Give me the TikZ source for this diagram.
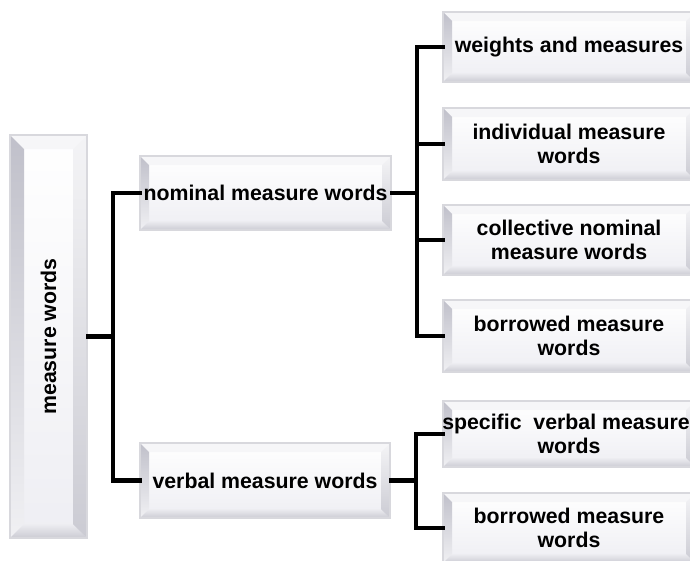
\documentclass[tikz,border=0pt]{standalone}
\usepackage{fontspec}
\setmainfont{Liberation Sans}
\usetikzlibrary{calc}

% bevelled face of a box: #1 is the bevel width
\newcommand\bevelart[1]{%
  \path (path picture bounding box.south west) coordinate (bvSW)
        (path picture bounding box.north east) coordinate (bvNE);
  \coordinate (bvNW) at (bvSW|-bvNE);
  \coordinate (bvSE) at (bvNE|-bvSW);
  \coordinate (bviSW) at ([shift={(#1,#1)}]bvSW);
  \coordinate (bviNE) at ([shift={(-#1,-#1)}]bvNE);
  \coordinate (bviNW) at ([shift={(#1,-#1)}]bvNW);
  \coordinate (bviSE) at ([shift={(-#1,#1)}]bvSE);
  \shade[top color=white, bottom color=facelow] (bvSW) rectangle (bvNE);
  \fill[bevtop] (bvNW) -- (bvNE) -- (bviNE) -- (bviNW) -- cycle;
  \shade[top color=bevleft, bottom color=bevleftlow]
    (bvNW) -- (bviNW) -- (bviSW) -- (bvSW) -- cycle;
  \shade[top color=bevbotup, bottom color=bevbot]
    (bvSW) -- (bviSW) -- (bviSE) -- (bvSE) -- cycle;
  \shade[top color=bevright, bottom color=bevbot]
    (bvNE) -- (bvSE) -- (bviSE) -- (bviNE) -- cycle;
}

\definecolor{facelow}{HTML}{EEEEF3}
\definecolor{bevtop}{HTML}{F6F6F8}
\definecolor{bevleft}{HTML}{C0C0CA}
\definecolor{bevleftlow}{HTML}{F0F0F3}
\definecolor{bevbotup}{HTML}{EDEDF1}
\definecolor{bevbot}{HTML}{CBCBD3}
\definecolor{bevright}{HTML}{F4F4F6}
\definecolor{rimgray}{HTML}{D8D8DD}

\tikzset{
  bevelbox/.style={rectangle, draw=rimgray, line width=1.5pt, inner sep=0pt,
    align=center, font=\fontsize{21.3}{24}\selectfont\bfseries,
    path picture={\bevelart{#1}}},
  bevelbox/.default=9pt,
  conn/.style={line width=4.5pt, line cap=rect, line join=miter}
}

\begin{document}
\begin{tikzpicture}[x=1pt, y=-1pt]
  \useasboundingbox (0,0) rectangle (690,560);
  \clip (0,0) rectangle (690,560);

  % boxes
  \node[bevelbox=14pt, minimum width=77, minimum height=403] (root) at (48.5,336.5)
    {\rotatebox{90}{measure words}};
  \node[bevelbox, minimum width=251, minimum height=74] (nom) at (265.5,193)
    {nominal measure words};
  \node[bevelbox, minimum width=250, minimum height=75] (verb) at (265,480.5)
    {verbal measure words};

  \node[bevelbox, minimum width=252, minimum height=70] (w1) at (569,47)
    {weights and measures};
  \node[bevelbox, minimum width=252, minimum height=72] (w2) at (569,144)
    {individual measure\\words};
  \node[bevelbox, minimum width=252, minimum height=70] (w3) at (569,240)
    {collective nominal\\measure words};
  \node[bevelbox, minimum width=252, minimum height=72] (w4) at (569,336)
    {borrowed measure\\words};
  \node[bevelbox, minimum width=252, minimum height=66] (v1) at (569,434)
    {\hspace*{-6pt}specific\ \ verbal measure\\words};
  \node[bevelbox, minimum width=252, minimum height=70] (v2) at (569,528)
    {borrowed measure\\words};

  % junction points of the bracket connectors
  \coordinate (j1) at (113,336.5);
  \coordinate (j2) at (417,193);
  \coordinate (j3) at (416,480.5);

  % connectors
  \draw[conn] (root.east) -- (j1);
  \draw[conn] (nom.west) -| (j1);
  \draw[conn] (verb.west) -| (j1);

  \draw[conn] (nom.east) -- (j2);
  \draw[conn] (w1.west) -| (j2);
  \draw[conn] (w2.west) -| (j2);
  \draw[conn] (w3.west) -| (j2);
  \draw[conn] (w4.west) -| (j2);

  \draw[conn] (verb.east) -- (j3);
  \draw[conn] (v1.west) -| (j3);
  \draw[conn] (v2.west) -| (j3);
\end{tikzpicture}
\end{document}
